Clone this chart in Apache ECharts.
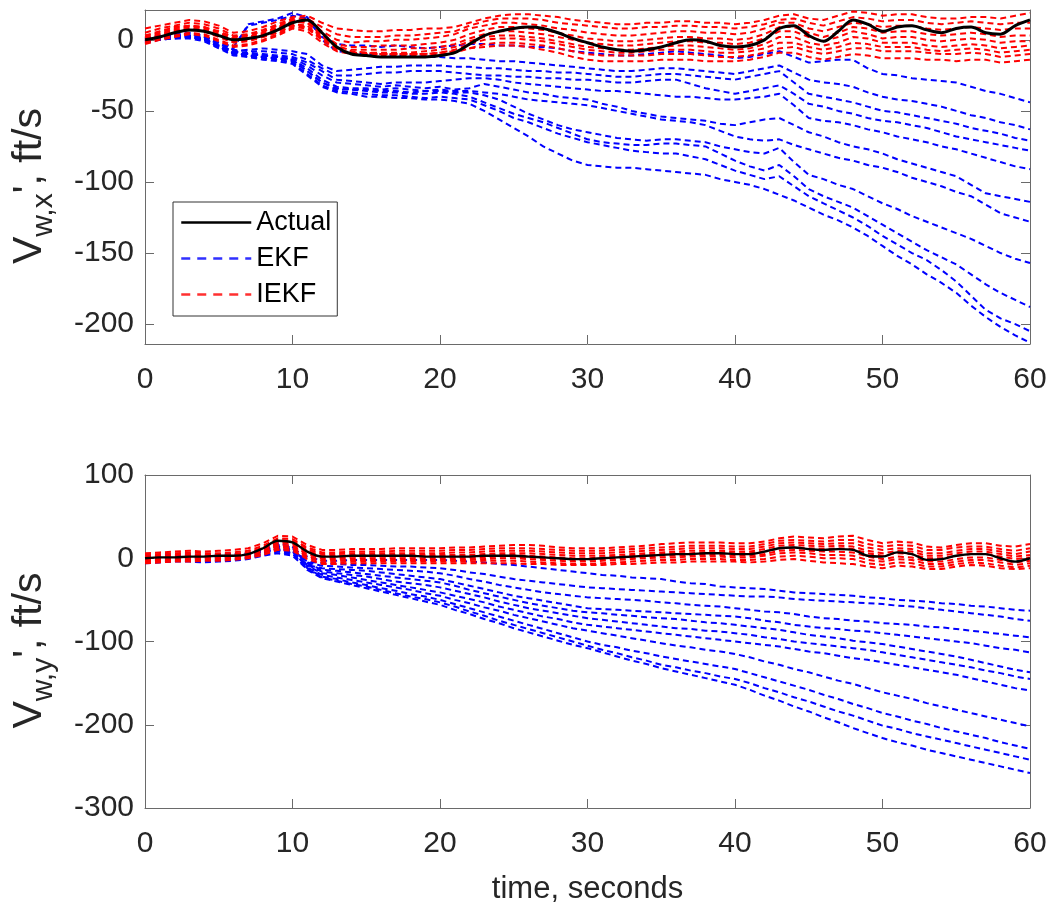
<!DOCTYPE html>
<html><head><meta charset="utf-8">
<script src="https://cdn.jsdelivr.net/npm/echarts@6/dist/echarts.min.js"></script>
<style>html,body{margin:0;padding:0;background:#fff}#c{width:1052px;height:907px}</style>
</head><body><div id="c"></div><script>
// ---------- data ----------
const time = [0,1,2,3,4,5,6,7,8,9,10,11,12,13,14,15,16,17,18,19,20,21,22,23,24,25,26,27,28,29,30,31,32,33,34,35,36,37,38,39,40,41,42,43,44,45,46,47,48,49,50,51,52,53,54,55,56,57,58,59,60];
const xTicks = [0,10,20,30,40,50,60];
const yTicksTop = [-200,-150,-100,-50,0];
const yTicksBottom = [-300,-200,-100,0,100];

// Top panel: V_w,x
const actualX = [0,2,5,7,6,3,0,1,3,7,12,14,5,-5,-10,-11,-12,-12,-12,-12,-11,-9,-3,3,6,8,9,8,5,1,-2,-5,-7,-8,-7,-5,-2,0,-1,-4,-5,-4,0,8,10,3,-1,6,14,11,6,9,10,7,5,8,9,5,4,10,14];
const iekfX1 = [8,10,12,14,13,10,5,6,9,13,16,17,12,8,7,6,6,7,7,8,8,9,12,15,17,18,18,17,16,14,13,12,11,11,12,12,13,13,12,12,11,12,14,17,18,15,14,17,20,19,17,18,18,16,15,15,16,16,15,17,19];
const iekfX2 = [5,8,10,12,11,8,3,4,7,11,15,15,9,4,2,2,2,3,3,4,5,6,10,13,15,15,15,14,12,11,10,9,8,8,9,9,10,10,9,9,8,9,11,14,15,12,10,13,16,15,13,14,14,12,11,12,13,12,11,12,12];
const iekfX3 = [3,6,9,10,9,6,2,3,6,10,14,13,6,0,-2,-1,-1,0,0,1,2,4,8,10,12,12,11,10,8,7,5,4,3,3,4,5,6,6,5,5,4,5,8,12,12,8,6,9,12,11,9,10,10,8,7,8,9,8,7,8,8];
const iekfX4 = [1,4,7,9,8,4,0,1,4,8,13,12,4,-3,-5,-5,-4,-4,-4,-3,-2,0,4,7,9,9,8,7,5,3,1,0,-1,-1,0,1,2,2,1,1,0,1,4,9,9,5,2,5,9,8,5,6,6,4,3,4,5,4,2,3,3];
const iekfX5 = [-1,2,5,7,6,2,-2,-1,2,6,11,10,2,-5,-7,-7,-7,-7,-6,-6,-5,-3,1,4,6,6,5,4,2,0,-2,-3,-4,-4,-3,-2,-1,-1,-2,-2,-3,-2,1,6,6,2,-1,2,6,4,1,2,2,0,-1,0,1,0,-2,-1,-1];
const iekfX6 = [-2,1,3,5,4,0,-4,-3,0,4,9,8,0,-7,-9,-9,-9,-9,-9,-8,-7,-5,-1,2,3,3,2,1,-1,-3,-5,-6,-7,-7,-6,-5,-4,-4,-5,-6,-7,-6,-3,2,2,-2,-4,-2,2,1,-2,-2,-2,-4,-5,-4,-3,-4,-6,-5,-4];
const iekfX7 = [-3,0,2,4,3,-1,-5,-4,-1,3,8,6,-2,-8,-10,-10,-10,-10,-10,-10,-9,-7,-3,0,1,1,0,-1,-3,-5,-7,-8,-9,-9,-8,-7,-7,-7,-8,-9,-9,-8,-6,-2,-2,-5,-7,-5,-2,-3,-5,-5,-5,-7,-8,-7,-6,-7,-9,-8,-7];
const iekfX8 = [0,3,6,8,7,3,-1,0,2,5,10,9,1,-6,-10,-11,-11,-11,-11,-11,-10,-9,-6,-3,-2,-2,-3,-4,-6,-8,-10,-11,-11,-11,-11,-10,-10,-10,-11,-12,-12,-11,-9,-6,-5,-8,-10,-8,-6,-6,-8,-8,-8,-9,-10,-10,-9,-10,-12,-11,-10];
const iekfX9 = [2,5,8,10,9,5,1,2,5,9,13,12,3,-4,-8,-9,-10,-10,-10,-10,-9,-8,-6,-5,-4,-4,-5,-7,-9,-12,-14,-15,-15,-15,-15,-14,-14,-14,-15,-15,-15,-14,-12,-9,-9,-12,-14,-12,-10,-11,-13,-13,-13,-14,-14,-15,-14,-14,-16,-15,-14];
const ekfX1 = [-1,1,3,4,2,-2,-5,10,12,14,17,15,2,-3,-4,-4,-5,-4,-5,-6,-5,-4,-3,-3,-4,-4,-5,-5,-6,-8,-9,-10,-11,-11,-10,-9,-8,-9,-10,-11,-13,-12,-10,-8,-12,-16,-15,-14,-14,-20,-24,-25,-27,-28,-29,-30,-33,-36,-38,-41,-44];
const ekfX2 = [1,3,4,5,3,-2,-6,11,13,15,19,16,0,-8,-9,-10,-10,-11,-11,-12,-12,-13,-13,-14,-15,-15,-16,-17,-18,-19,-20,-21,-22,-22,-21,-20,-20,-21,-22,-23,-24,-22,-20,-18,-23,-28,-30,-31,-33,-37,-40,-42,-43,-45,-47,-50,-53,-55,-58,-60,-63];
const ekfX3 = [0,2,3,3,1,-4,-8,-7,-6,-7,-8,-10,-18,-22,-21,-20,-19,-19,-18,-18,-18,-19,-19,-20,-20,-21,-22,-22,-23,-23,-24,-25,-26,-26,-25,-24,-24,-25,-26,-27,-28,-26,-24,-22,-30,-38,-40,-42,-44,-47,-50,-51,-53,-55,-57,-59,-62,-64,-66,-69,-71];
const ekfX4 = [-2,1,3,4,2,-3,-7,-8,-8,-9,-10,-14,-20,-25,-25,-24,-23,-23,-22,-22,-22,-23,-24,-25,-25,-26,-26,-27,-27,-28,-28,-29,-30,-30,-29,-28,-28,-31,-34,-36,-38,-36,-34,-32,-38,-45,-47,-50,-52,-55,-57,-58,-60,-62,-65,-68,-70,-72,-74,-76,-78];
const ekfX5 = [0,1,2,2,0,-5,-9,-9,-10,-11,-12,-16,-22,-28,-29,-30,-31,-30,-30,-30,-29,-28,-27,-27,-28,-30,-31,-32,-33,-34,-35,-36,-36,-37,-38,-39,-40,-40,-41,-42,-42,-41,-40,-38,-46,-55,-57,-58,-60,-63,-65,-68,-70,-72,-75,-77,-80,-83,-86,-89,-91];
const ekfX6 = [1,2,3,3,1,-4,-8,-10,-11,-12,-13,-18,-25,-30,-31,-32,-33,-32,-33,-34,-33,-35,-34,-31,-33,-35,-37,-38,-40,-41,-42,-45,-47,-50,-52,-54,-55,-56,-57,-59,-60,-58,-56,-55,-60,-65,-68,-72,-75,-77,-80,-84,-87,-90,-93,-96,-102,-108,-110,-112,-114];
const ekfX7 = [-1,1,2,3,1,-5,-9,-11,-12,-13,-14,-20,-28,-33,-34,-34,-35,-34,-35,-36,-35,-36,-36,-37,-38,-40,-42,-43,-44,-45,-46,-48,-50,-52,-54,-56,-57,-58,-60,-64,-68,-70,-71,-70,-74,-77,-80,-83,-85,-88,-90,-93,-97,-100,-103,-107,-110,-116,-122,-125,-128];
const ekfX8 = [0,1,2,2,0,-4,-8,-10,-11,-12,-14,-22,-30,-34,-35,-35,-36,-36,-37,-36,-36,-37,-37,-39,-42,-47,-52,-56,-60,-63,-65,-67,-69,-70,-71,-70,-70,-71,-72,-75,-77,-79,-80,-76,-86,-95,-98,-102,-105,-110,-115,-119,-124,-128,-132,-136,-140,-145,-150,-154,-157];
const ekfX9 = [-2,0,1,2,0,-5,-10,-11,-12,-13,-15,-22,-30,-35,-35,-36,-37,-37,-38,-38,-37,-38,-40,-44,-48,-52,-55,-58,-62,-66,-70,-72,-73,-74,-74,-73,-73,-74,-75,-80,-85,-89,-92,-88,-96,-105,-110,-114,-118,-124,-130,-136,-142,-148,-153,-158,-165,-172,-178,-183,-188];
const ekfX10 = [-1,0,1,1,-1,-6,-11,-12,-13,-14,-16,-24,-32,-36,-37,-38,-39,-39,-40,-41,-40,-41,-42,-46,-50,-55,-58,-62,-66,-69,-72,-74,-76,-78,-79,-80,-80,-82,-84,-88,-92,-95,-98,-96,-103,-110,-115,-120,-125,-131,-138,-144,-150,-155,-162,-170,-180,-190,-196,-200,-205];
const ekfX11 = [0,1,2,2,0,-5,-10,-12,-14,-15,-17,-25,-33,-37,-38,-40,-40,-41,-41,-42,-42,-43,-45,-50,-56,-62,-68,-75,-80,-85,-88,-89,-90,-90,-91,-92,-93,-94,-95,-98,-100,-102,-105,-109,-113,-118,-123,-127,-132,-138,-145,-152,-158,-165,-171,-178,-187,-195,-202,-208,-213];

// Bottom panel: V_w,y
const actualY = [0,1,1,2,2,3,3,5,12,21,19,8,2,2,3,3,3,3,3,2,2,2,2,3,3,3,2,1,0,-1,-1,0,1,2,3,4,5,5,6,6,5,5,8,12,13,11,10,11,10,3,2,7,5,-2,-1,3,5,5,0,-4,0];
const iekfY1 = [6,7,8,9,8,9,10,12,18,27,26,16,10,10,11,11,11,12,12,12,12,13,13,14,15,16,16,15,13,12,12,12,13,14,15,17,18,19,19,19,18,18,20,24,26,25,24,26,27,22,18,20,19,14,13,16,18,18,15,14,17];
const iekfY2 = [4,5,6,7,6,6,7,9,15,24,23,13,7,7,8,8,8,9,9,9,9,10,10,11,12,12,12,11,10,9,9,9,10,11,12,13,14,15,15,15,14,14,17,21,22,21,20,22,22,17,14,16,15,10,10,13,14,14,11,9,12];
const iekfY3 = [2,3,4,5,4,4,5,7,13,22,21,11,5,5,6,6,6,6,6,6,6,7,7,8,9,9,9,8,7,6,6,6,7,8,9,10,11,12,12,12,11,11,14,18,19,18,17,18,18,13,10,12,11,6,6,9,11,11,8,5,8];
const iekfY4 = [0,1,2,3,3,3,4,6,11,20,19,9,3,3,4,4,4,4,4,4,4,4,4,5,6,6,6,5,4,3,3,3,4,5,6,7,8,9,9,9,8,8,11,15,16,15,14,15,14,9,6,9,8,3,3,6,8,8,5,2,4];
const iekfY5 = [-2,-1,0,1,1,1,2,4,10,18,17,7,1,1,2,2,2,2,2,2,2,2,2,3,4,4,3,2,1,0,0,1,2,3,4,5,6,6,7,7,6,6,8,12,13,12,11,12,11,6,3,6,5,0,0,3,5,5,2,-1,1];
const iekfY6 = [-3,-2,-1,0,0,0,1,3,8,16,15,5,-1,-1,0,0,0,0,0,0,0,0,0,1,2,2,1,0,-1,-2,-2,-1,0,1,2,3,3,4,4,4,3,3,5,9,10,9,8,8,7,2,-1,2,1,-4,-4,-1,1,1,-2,-5,-3];
const iekfY7 = [-4,-3,-2,-1,-1,-1,0,2,7,14,13,3,-3,-3,-2,-2,-2,-2,-2,-2,-2,-2,-2,-1,0,0,-1,-2,-3,-4,-4,-3,-2,-1,0,1,1,2,2,2,1,1,3,6,7,6,4,4,3,-2,-4,-1,-2,-7,-7,-4,-2,-2,-5,-8,-6];
const iekfY8 = [-5,-4,-3,-3,-2,-2,-1,1,5,12,11,1,-5,-5,-4,-4,-4,-4,-4,-4,-4,-4,-4,-3,-3,-3,-4,-5,-6,-7,-7,-6,-5,-4,-3,-2,-2,-1,-1,-1,-2,-2,-1,2,3,2,0,0,-1,-6,-8,-5,-6,-10,-10,-7,-5,-6,-9,-11,-9];
const iekfY9 = [-6,-5,-4,-4,-3,-3,-2,0,4,10,9,-1,-7,-7,-6,-6,-6,-6,-6,-6,-6,-6,-6,-6,-6,-6,-7,-7,-8,-8,-8,-8,-7,-7,-6,-5,-5,-4,-4,-4,-4,-5,-4,-2,-1,-3,-5,-6,-7,-10,-12,-9,-10,-13,-13,-10,-8,-9,-12,-13,-12];
const ekfY1 = [-2,-1,0,1,1,2,2,4,9,14,11,2,-3,-3,-2,-2,-2,-2,-2,-2,-2,-3,-4,-5,-7,-8,-10,-12,-14,-16,-18,-20,-21,-23,-24,-25,-28,-30,-31,-34,-35,-36,-37,-39,-41,-42,-43,-44,-45,-47,-48,-50,-51,-52,-54,-55,-57,-58,-60,-62,-63];
const ekfY2 = [1,2,2,3,2,3,3,5,8,12,9,-4,-6,-7,-8,-8,-9,-10,-10,-11,-12,-14,-17,-19,-22,-25,-27,-29,-31,-33,-35,-36,-37,-38,-39,-40,-41,-42,-43,-44,-45,-46,-46,-47,-49,-50,-51,-52,-53,-54,-55,-57,-58,-60,-62,-64,-66,-68,-70,-73,-75];
const ekfY3 = [-1,0,1,1,0,1,2,4,9,15,12,-5,-9,-10,-11,-12,-13,-14,-15,-16,-18,-21,-25,-28,-32,-35,-38,-41,-43,-45,-47,-48,-49,-50,-51,-53,-54,-56,-57,-58,-60,-62,-64,-65,-67,-70,-72,-73,-75,-76,-78,-79,-80,-82,-83,-85,-87,-89,-91,-93,-95];
const ekfY4 = [-3,-2,-1,0,-1,0,1,2,6,10,7,-8,-12,-13,-14,-15,-17,-19,-21,-23,-25,-29,-33,-37,-41,-45,-48,-51,-54,-57,-60,-61,-62,-63,-64,-65,-66,-67,-68,-69,-70,-72,-75,-77,-80,-82,-84,-85,-87,-88,-90,-92,-94,-96,-98,-100,-102,-105,-108,-110,-113];
const ekfY5 = [2,3,3,4,3,4,4,6,10,16,13,-6,-14,-15,-17,-19,-21,-23,-25,-27,-29,-33,-38,-42,-46,-50,-54,-57,-60,-63,-65,-66,-68,-69,-71,-72,-73,-75,-77,-78,-80,-82,-84,-86,-89,-92,-94,-96,-99,-101,-103,-106,-109,-112,-115,-118,-122,-126,-130,-134,-137];
const ekfY6 = [-4,-3,-2,-2,-3,-2,-1,1,6,12,8,-8,-16,-18,-20,-22,-25,-28,-30,-32,-35,-39,-43,-47,-52,-56,-60,-63,-66,-69,-72,-74,-76,-78,-80,-82,-84,-85,-87,-88,-90,-92,-95,-97,-100,-102,-104,-106,-108,-110,-113,-116,-119,-122,-125,-128,-131,-135,-138,-142,-145];
const ekfY7 = [0,1,1,2,1,2,3,5,11,18,14,-9,-18,-20,-23,-26,-29,-32,-35,-38,-41,-45,-49,-53,-58,-62,-66,-70,-73,-77,-80,-82,-84,-86,-88,-90,-92,-94,-96,-98,-100,-102,-104,-106,-109,-112,-114,-117,-120,-122,-125,-128,-131,-134,-137,-140,-144,-148,-152,-156,-159];
const ekfY8 = [-5,-4,-3,-3,-4,-3,-2,0,4,8,5,-11,-20,-23,-26,-29,-32,-35,-38,-42,-45,-50,-54,-59,-63,-68,-72,-76,-80,-84,-87,-90,-93,-96,-99,-102,-105,-107,-110,-112,-115,-119,-124,-128,-133,-137,-142,-147,-151,-156,-161,-165,-169,-174,-178,-182,-186,-190,-194,-198,-202];
const ekfY9 = [3,3,4,4,3,4,5,6,10,14,10,-12,-22,-25,-29,-32,-36,-39,-43,-46,-50,-55,-60,-65,-70,-75,-80,-85,-90,-95,-100,-104,-107,-111,-114,-118,-121,-124,-127,-130,-133,-138,-143,-148,-153,-158,-164,-169,-175,-180,-186,-190,-195,-199,-204,-208,-212,-216,-221,-225,-229];
const ekfY10 = [-6,-5,-4,-4,-5,-4,-3,-1,3,6,3,-13,-23,-27,-31,-34,-38,-42,-46,-49,-53,-58,-64,-69,-75,-80,-85,-90,-95,-100,-105,-110,-114,-119,-123,-128,-131,-135,-138,-142,-145,-150,-156,-161,-167,-172,-178,-184,-189,-195,-201,-205,-210,-214,-218,-222,-226,-230,-234,-238,-242];
const ekfY11 = [4,4,5,5,4,5,5,6,8,10,6,-14,-24,-28,-32,-36,-40,-44,-48,-52,-56,-62,-67,-73,-78,-84,-89,-94,-99,-104,-108,-113,-118,-123,-127,-132,-136,-140,-144,-148,-152,-158,-165,-171,-178,-184,-191,-197,-204,-210,-216,-221,-225,-230,-234,-238,-242,-246,-250,-254,-258];

const ekfTop = [ekfX1,ekfX2,ekfX3,ekfX4,ekfX5,ekfX6,ekfX7,ekfX8,ekfX9,ekfX10,ekfX11];
const iekfTop = [iekfX1,iekfX2,iekfX3,iekfX4,iekfX5,iekfX6,iekfX7,iekfX8,iekfX9];
const ekfBot = [ekfY1,ekfY2,ekfY3,ekfY4,ekfY5,ekfY6,ekfY7,ekfY8,ekfY9,ekfY10,ekfY11];
const iekfBot = [iekfY1,iekfY2,iekfY3,iekfY4,iekfY5,iekfY6,iekfY7,iekfY8,iekfY9];

// ---------- styling ----------
const FONT = '"Liberation Sans", Arial, Helvetica, sans-serif';
const AX = '#6a6a6a';
const TXT = '#262626';
const BLUE = '#0000ff', RED = '#ff0000', BLACK = '#000000';
const DASH = [6,4];

function pairs(v){ return time.map((t,i)=>[t, v[i]]); }

function xAxes(g, showName){
  return [
    { gridIndex:g, type:'value', min:0, max:60, interval:10, position:'bottom',
      axisLine:{show:true, onZero:false, lineStyle:{color:AX, width:1}},
      axisTick:{show:true, inside:true, length:9, customValues:xTicks, lineStyle:{color:AX}},
      axisLabel:{fontSize:30, color:TXT, margin:21, fontFamily:FONT, customValues:xTicks},
      splitLine:{show:false},
      name: showName ? 'time, seconds' : '', nameLocation:'middle', nameGap:66,
      nameTextStyle:{fontSize:31, color:TXT, fontFamily:FONT} },
    { gridIndex:g, type:'value', min:0, max:60, interval:10, position:'top',
      axisLine:{show:true, onZero:false, lineStyle:{color:AX, width:1}},
      axisTick:{show:true, inside:true, length:9, customValues:xTicks, lineStyle:{color:AX}},
      axisLabel:{show:false}, splitLine:{show:false} }
  ];
}
function yAxes(g, min, max, ticks, sub){
  const rich = {
    v:{fontSize:41, color:TXT, fontFamily:FONT, lineHeight:58},
    s:{fontSize:30, color:TXT, fontFamily:FONT, lineHeight:29, verticalAlign:'bottom'}
  };
  return [
    { gridIndex:g, type:'value', min:min, max:max, position:'left',
      axisLine:{show:true, onZero:false, lineStyle:{color:AX, width:1}},
      axisTick:{show:true, inside:true, length:9, customValues:ticks, lineStyle:{color:AX}},
      axisLabel:{fontSize:30, color:TXT, margin:11, fontFamily:FONT, customValues:ticks},
      splitLine:{show:false},
      name:'{v|V}{s|' + sub + '}{v|\', ft/s}', nameLocation:'middle', nameGap:86,
      nameTextStyle:{rich:rich, padding:[0,18,0,0]} },
    { gridIndex:g, type:'value', min:min, max:max, position:'right',
      axisLine:{show:true, onZero:false, lineStyle:{color:AX, width:1}},
      axisTick:{show:true, inside:true, length:9, customValues:ticks, lineStyle:{color:AX}},
      axisLabel:{show:false}, splitLine:{show:false} }
  ];
}

const series = [];
function addLines(list, name, color, width, type, xi, yi, smooth){
  list.forEach(v => series.push({
    name:name, type:'line', xAxisIndex:xi, yAxisIndex:yi, data:pairs(v),
    symbol:'none', showSymbol:false, smooth:smooth, silent:true,
    lineStyle:{color:color, width:width, type:type}, itemStyle:{color:color},
    emphasis:{disabled:true}
  }));
}
addLines(ekfTop, 'EKF', BLUE, 2, DASH, 0, 0, false);
addLines(iekfTop, 'IEKF', RED, 2, DASH, 0, 0, false);
addLines([actualX], 'Actual', BLACK, 3, 'solid', 0, 0, 0.3);
addLines(ekfBot, 'EKF', BLUE, 2, DASH, 2, 2, false);
addLines(iekfBot, 'IEKF', RED, 2, DASH, 2, 2, false);
addLines([actualY], 'Actual', BLACK, 2.4, 'solid', 2, 2, 0.3);

const chart = echarts.init(document.getElementById('c'), null, {renderer:'canvas'});
chart.setOption({
  animation:false,
  backgroundColor:'#ffffff',
  grid:[
    {left:145, right:22, top:10, height:334},
    {left:145, right:22, top:475, height:333}
  ],
  xAxis:[...xAxes(0,false), ...xAxes(1,true)],
  yAxis:[...yAxes(0,-214,21,yTicksTop,'w,x'), ...yAxes(1,-300,100,yTicksBottom,'w,y')],
  legend:{
    data:[
      {name:'Actual', lineStyle:{color:BLACK, width:2.5, type:'solid'}},
      {name:'EKF', lineStyle:{color:'#3030ff', width:2.5, type:[9,7]}},
      {name:'IEKF', lineStyle:{color:'#ff3030', width:2.5, type:[9,7]}}
    ],
    orient:'vertical', left:173, top:202,
    padding:[7,6,8,7], itemWidth:70, itemHeight:14, itemGap:9,
    backgroundColor:'#ffffff', borderColor:'#333333', borderWidth:1, borderRadius:0,
    selectedMode:false,
    itemStyle:{opacity:0, borderWidth:0},
    textStyle:{fontSize:27, color:'#000', lineHeight:27, fontFamily:FONT}
  },
  series:series
});
</script></body></html>
